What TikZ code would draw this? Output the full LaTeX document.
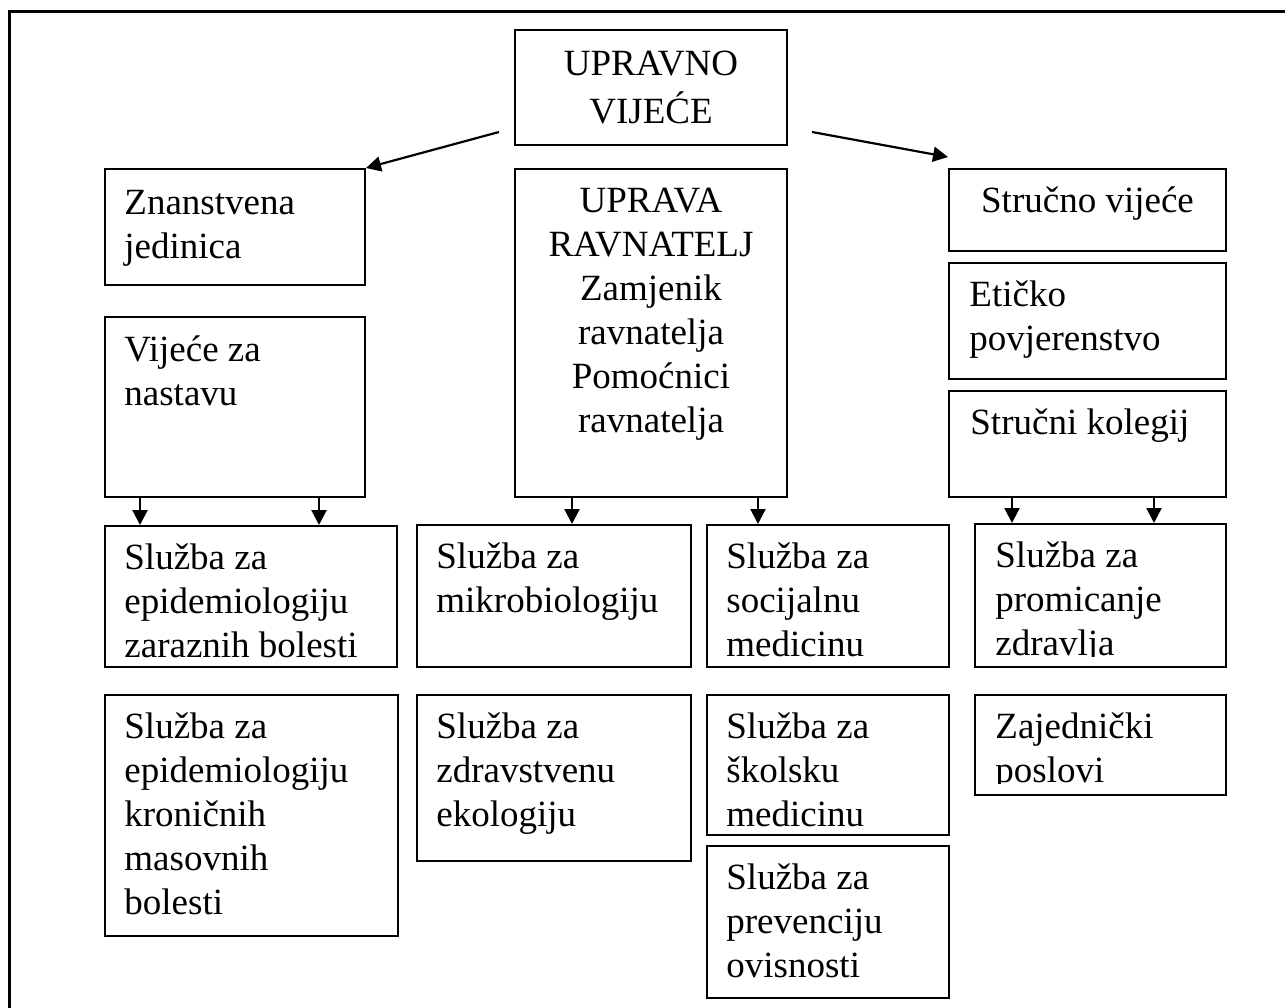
\documentclass[tikz,border=0pt]{standalone}
\usepackage{fontspec}
\setmainfont{Liberation Serif}
\usetikzlibrary{arrows.meta,fit}
\newcommand\orgfont{\fontsize{18.5}{22}\selectfont}
\tikzset{
  box/.style={draw, line width=1pt, rectangle, inner sep=0pt, fit={#1}},
  txtl/.style={anchor=north west, align=left, inner sep=0pt, font=\orgfont},
  txtc/.style={anchor=north, align=center, inner sep=0pt, font=\orgfont},
  arr/.style={-{Triangle[length=7.5pt,width=7.5pt]}, line width=1.1pt}
}

\begin{document}
\begin{tikzpicture}[x=0.5pt,y=-0.5pt]
\useasboundingbox (0,0) rectangle (1285,1007);
\clip (0,0) rectangle (1285,1007);

% frame
\draw[line width=1.5pt] (9,11) rectangle (1330,1050);

% top
\node[box={(515,30) (787,145)}] (uv) {};
\node[txtc, font=\fontsize{18.5}{24}\selectfont] (uvt) at ([shift={(0,12)}]uv.north) {\strut UPRAVNO\\VIJEĆE};

% left column
\node[box={(105,169) (365,285)}] (zj) {};
\node[box={(105,317) (365,497)}] (vn) {};
\node[box={(105,526) (397,667)}] (ez) {};
\node[box={(105,695) (398,936)}] (ek) {};
\node[txtl] (zjt) at ([shift={(20,15)}]zj.north west) {\strut Znanstvena\\jedinica};
\node[txtl] (vnt) at ([shift={(20,14)}]vn.north west) {\strut Vijeće za\\nastavu};
\node[txtl] (ezt) at ([shift={(20,13)}]ez.north west) {\strut Služba za\\epidemiologiju\\zaraznih bolesti};
\node[txtl] (ekt) at ([shift={(20,13)}]ek.north west) {\strut Služba za\\epidemiologiju\\kroničnih\\masovnih\\bolesti};

% middle
\node[box={(515,169) (787,497)}] (up) {};
\node[box={(417,525) (691,667)}] (mb) {};
\node[box={(417,695) (691,861)}] (ze) {};
\node[box={(707,525) (949,667)}] (sm) {};
\node[box={(707,695) (949,835)}] (sk) {};
\node[box={(707,846) (949,998)}] (po) {};
\node[txtc] (upt) at ([shift={(0,13)}]up.north) {\strut UPRAVA\\RAVNATELJ\\Zamjenik\\ravnatelja\\Pomoćnici\\ravnatelja};
\node[txtl] (mbt) at ([shift={(20,13)}]mb.north west) {\strut Služba za\\mikrobiologiju};
\node[txtl] (zet) at ([shift={(20,13)}]ze.north west) {\strut Služba za\\zdravstvenu\\ekologiju};
\node[txtl] (smt) at ([shift={(20,13)}]sm.north west) {\strut Služba za\\socijalnu\\medicinu};
\node[txtl] (skt) at ([shift={(20,13)}]sk.north west) {\strut Služba za\\školsku\\medicinu};
\node[txtl] (pot) at ([shift={(20,13)}]po.north west) {\strut Služba za\\prevenciju\\ovisnosti};

% right column
\node[box={(949,169) (1226,251)}] (sv) {};
\node[box={(949,263) (1226,379)}] (ep) {};
\node[box={(949,391) (1226,497)}] (kl) {};
\node[box={(975,524) (1226,667)}] (pz) {};
\node[box={(975,695) (1226,795)}] (zp) {};
\node[txtc] (svt) at ([shift={(0,13)}]sv.north) {\strut Stručno vijeće};
\node[txtl] (ept) at ([shift={(21,13)}]ep.north west) {\strut Etičko\\povjerenstvo};
\node[txtl] (klt) at ([shift={(22,13)}]kl.north west) {\strut Stručni kolegij};
\begin{scope}
  \clip (pz.north west) rectangle ([yshift=6pt]pz.south east);
  \node[txtl] (pzt) at ([shift={(21,13)}]pz.north west) {\strut Služba za\\promicanje\\zdravlja};
\end{scope}
\begin{scope}
  \clip (zp.north west) rectangle ([yshift=6.5pt]zp.south east);
  \node[txtl] (zpt) at ([shift={(21,13)}]zp.north west) {\strut Zajednički\\poslovi};
\end{scope}

% arrows
\coordinate (la) at ([shift={(-15,-14)}]uv.south west);
\coordinate (ra) at ([shift={(24,-14)}]uv.south east);
\draw[arr] (la) -- (zj.north east);
\draw[arr] (ra) -- ([yshift=5.5pt]sv.north west);

\coordinate (a1) at ([xshift=18pt]vn.south west);
\coordinate (a2) at ([xshift=107.5pt]vn.south west);
\coordinate (a3) at ([xshift=29pt]up.south west);
\coordinate (a4) at ([xshift=122pt]up.south west);
\coordinate (a5) at ([xshift=32pt]kl.south west);
\coordinate (a6) at ([xshift=103pt]kl.south west);
\draw[arr] (a1) -- (a1 |- ez.north);
\draw[arr] (a2) -- (a2 |- ez.north);
\draw[arr] (a3) -- (a3 |- mb.north);
\draw[arr] (a4) -- (a4 |- sm.north);
\draw[arr] (a5) -- (a5 |- pz.north);
\draw[arr] (a6) -- (a6 |- pz.north);

\end{tikzpicture}
\end{document}
